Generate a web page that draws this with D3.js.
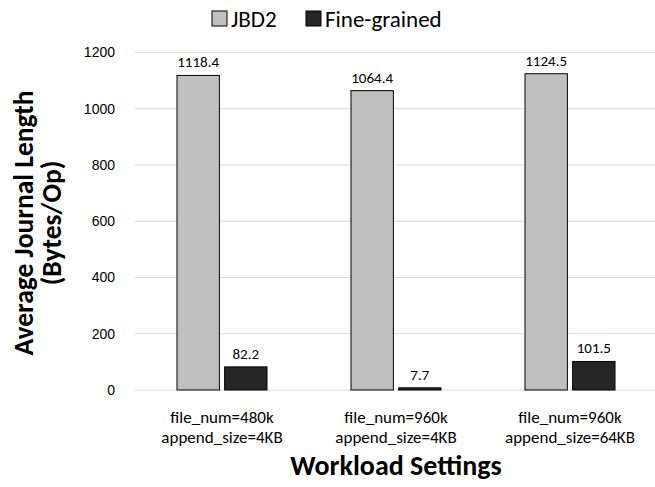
<!DOCTYPE html>
<html><head><meta charset="utf-8">
<script src="https://cdn.jsdelivr.net/npm/d3@7"></script>
<style>body{margin:0;background:#fff}svg{font-family:Calibri,Carlito,Lato,"Open Sans",sans-serif}</style>
</head><body>
<svg id="chart" width="655" height="487"></svg>
<script>
const categories = [["file_num=480k","append_size=4KB"],["file_num=960k","append_size=4KB"],["file_num=960k","append_size=64KB"]];
const seriesNames = ["JBD2","Fine-grained"];
const jbd2 = [1118.4, 1064.4, 1124.5];
const fine = [82.2, 7.7, 101.5];
const yTicks = [0,200,400,600,800,1000,1200];
const colors = ["#c0c0c0","#262626"];

const svg = d3.select("#chart");
const x0 = d3.scaleBand().domain(d3.range(categories.length)).range([135,657]);
const x1 = d3.scaleBand().domain(seriesNames).range([x0.bandwidth()/2-45, x0.bandwidth()/2+45]).paddingInner(0.111);
const y = d3.scaleLinear().domain([0,1200]).range([390,52.5]);

// gridlines
svg.append("g").selectAll("line").data(yTicks).join("line")
  .attr("x1",135).attr("x2",655).attr("y1",d=>y(d)).attr("y2",d=>y(d))
  .attr("stroke","#d9d9d9").attr("stroke-width",1);

// y axis labels
const yAxis = d3.axisLeft(y).tickValues(yTicks).tickFormat(d3.format("d")).tickSize(0).tickPadding(0);
const ga = svg.append("g").attr("transform","translate(115,0)").call(yAxis);
ga.select(".domain").remove();
ga.selectAll("text").attr("font-size",14).attr("fill","#000").style("font-family","inherit");

const data = categories.map((c,i)=>({i, vals:[jbd2[i], fine[i]]}));
const groups = svg.append("g").selectAll("g").data(data).join("g")
  .attr("transform",d=>`translate(${x0(d.i)},0)`);
groups.selectAll("rect").data(d=>d.vals.map((v,k)=>({k,v}))).join("rect")
  .attr("x",d=>x1(seriesNames[d.k])).attr("width",x1.bandwidth())
  .attr("y",d=>y(d.v)).attr("height",d=>y(0)-y(d.v))
  .attr("fill",d=>colors[d.k]).attr("stroke","#000").attr("stroke-width",1);
groups.selectAll("text").data(d=>d.vals.map((v,k)=>({k,v}))).join("text")
  .attr("x",d=>x1(seriesNames[d.k])+x1.bandwidth()/2).attr("y",d=>y(d.v)-8)
  .attr("text-anchor","middle").attr("font-size",15).text(d=>d.v.toFixed(1));

// category labels
const cl = svg.append("g").selectAll("text").data(categories).join("text")
  .attr("x",(d,i)=>x0(i)+x0.bandwidth()/2).attr("text-anchor","middle").attr("font-size",17);
cl.append("tspan").attr("y",423).attr("x",(d,i)=>x0(i)+x0.bandwidth()/2).text(d=>d[0]);
cl.append("tspan").attr("y",443).attr("x",(d,i)=>x0(i)+x0.bandwidth()/2).text(d=>d[1]);

// axis titles
svg.append("text").attr("x",396).attr("y",475).attr("text-anchor","middle")
  .attr("font-size",28).attr("font-weight","bold").text("Workload Settings");
const yt = svg.append("text").attr("transform","translate(0,223) rotate(-90)")
  .attr("text-anchor","middle").attr("font-size",27.5).attr("font-weight","bold");
yt.append("tspan").attr("x",0).attr("y",33).text("Average Journal Length");
yt.append("tspan").attr("x",0).attr("y",61).text("(Bytes/Op)");

// legend
const leg = svg.append("g");
const legX = [212, 306];
seriesNames.forEach((s,k)=>{
  leg.append("rect").attr("x",legX[k]).attr("y",11).attr("width",15).attr("height",15)
    .attr("fill",colors[k]).attr("stroke","#000").attr("stroke-width",1);
  leg.append("text").attr("x",legX[k]+19).attr("y",27).attr("font-size",23).text(s);
});
</script>
</body></html>
